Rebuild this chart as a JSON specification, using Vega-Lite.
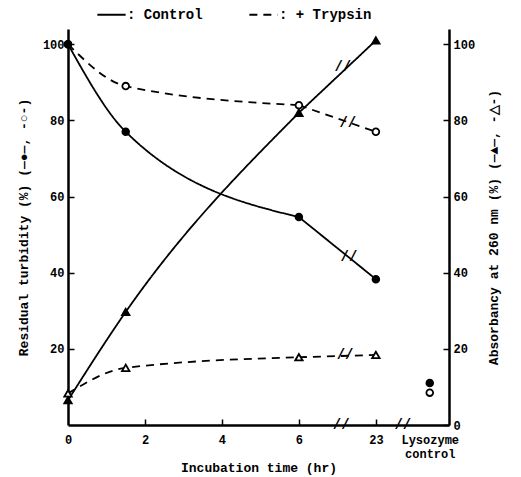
{
  "$schema": "https://vega.github.io/schema/vega-lite/v6.json",
  "autosize": "none",
  "width": 381,
  "height": 396,
  "padding": {"left": 68, "top": 29, "right": 72, "bottom": 52},
  "background": "white",
  "view": {"stroke": null},
  "config": {
    "font": "Liberation Mono",
    "axis": {
      "labelFont": "Liberation Mono",
      "labelFontWeight": "bold",
      "labelFontSize": 12,
      "labelColor": "black",
      "titleFont": "Liberation Mono",
      "titleFontWeight": "bold",
      "titleFontSize": 13,
      "titleColor": "black",
      "domainColor": "black",
      "domainWidth": 2.5,
      "tickColor": "black",
      "tickWidth": 1.5,
      "grid": false
    },
    "legend": {
      "labelFont": "Liberation Mono",
      "labelFontWeight": "bold",
      "labelFontSize": 14,
      "labelColor": "black"
    }
  },
  "datasets": {
    "turb": [
      {"series": "Turbidity + Trypsin", "treatment": "+ Trypsin", "time": "0", "pos": 0, "value": 100},
      {"series": "Turbidity + Trypsin", "treatment": "+ Trypsin", "time": "1.5", "pos": 1.5, "value": 89},
      {"series": "Turbidity + Trypsin", "treatment": "+ Trypsin", "time": "6", "pos": 6, "value": 84},
      {"series": "Turbidity + Trypsin", "treatment": "+ Trypsin", "time": "23", "pos": 8, "value": 77},
      {"series": "Turbidity + Trypsin", "treatment": "+ Trypsin", "time": "Lysozyme control", "pos": 9.4, "value": 8.5},
      {"series": "Turbidity Control", "treatment": "Control", "time": "0", "pos": 0, "value": 100},
      {"series": "Turbidity Control", "treatment": "Control", "time": "1.5", "pos": 1.5, "value": 77},
      {"series": "Turbidity Control", "treatment": "Control", "time": "6", "pos": 6, "value": 54.6},
      {"series": "Turbidity Control", "treatment": "Control", "time": "23", "pos": 8, "value": 38.3},
      {"series": "Turbidity Control", "treatment": "Control", "time": "Lysozyme control", "pos": 9.4, "value": 11}
    ],
    "abs": [
      {"series": "Absorbancy + Trypsin", "treatment": "+ Trypsin", "time": "0", "pos": 0, "value": 8.3},
      {"series": "Absorbancy + Trypsin", "treatment": "+ Trypsin", "time": "1.5", "pos": 1.5, "value": 15},
      {"series": "Absorbancy + Trypsin", "treatment": "+ Trypsin", "time": "6", "pos": 6, "value": 17.8},
      {"series": "Absorbancy + Trypsin", "treatment": "+ Trypsin", "time": "23", "pos": 8, "value": 18.4},
      {"series": "Absorbancy Control", "treatment": "Control", "time": "0", "pos": 0, "value": 6.5},
      {"series": "Absorbancy Control", "treatment": "Control", "time": "1.5", "pos": 1.5, "value": 29.7},
      {"series": "Absorbancy Control", "treatment": "Control", "time": "6", "pos": 6, "value": 82},
      {"series": "Absorbancy Control", "treatment": "Control", "time": "23", "pos": 8, "value": 101}
    ],
    "breaks": [
      {"pos": 7.1, "value": 0},
      {"pos": 8.7, "value": 0},
      {"pos": 7.3, "value": 44},
      {"pos": 7.27, "value": 79.3},
      {"pos": 7.14, "value": 94},
      {"pos": 7.2, "value": 18.4}
    ]
  },
  "layer": [
    {
      "layer": [
        {
          "data": {"name": "turb"},
          "transform": [{"filter": "datum.pos <= 6"}],
          "mark": {"type": "line", "interpolate": "monotone", "color": "black", "strokeWidth": 1.8},
          "encoding": {
            "x": {"field": "pos", "type": "quantitative", "scale": {"domain": [0, 9.9], "nice": false},
              "axis": {
                "title": "Incubation time (hr)",
                "values": [0, 2, 4, 6, 8, 9.4],
                "labelExpr": "datum.value == 8 ? '23' : datum.value > 9 ? ['Lysozyme', 'control'] : datum.label",
                "tickSize": -6,
                "tickOpacity": {"condition": {"test": "datum.value > 9 || datum.value == 0", "value": 0}, "value": 1},
                "labelPadding": 15,
                "titlePadding": 2,
                "labelFlush": false
              }},
            "y": {"field": "value", "type": "quantitative", "scale": {"domain": [0, 104], "nice": false},
              "axis": {
                "title": "Residual turbidity (%) (—●—, -○-)",
                "values": [20, 40, 60, 80, 100],
                "tickSize": -6,
                "labelPadding": 10,
                "titlePadding": 12
              }},
            "detail": {"field": "series"},
            "strokeDash": {"field": "treatment", "type": "nominal",
              "scale": {"domain": ["Control", "+ Trypsin"], "range": [[1, 0], [8, 6]]},
              "legend": {
                "title": null, "orient": "none", "direction": "horizontal",
                "legendX": 28, "legendY": -30,
                "symbolType": "stroke", "symbolSize": 800, "symbolStrokeWidth": 2,
                "symbolStrokeColor": "black", "columnPadding": 42,
                "labelExpr": "': ' + datum.label", "labelOffset": 0
              }}
          }
        },
        {
          "data": {"name": "turb"},
          "transform": [{"filter": "datum.pos >= 6 && datum.pos <= 8"}],
          "mark": {"type": "line", "color": "black", "strokeWidth": 1.8},
          "encoding": {
            "x": {"field": "pos", "type": "quantitative"},
            "y": {"field": "value", "type": "quantitative"},
            "detail": {"field": "series"},
            "strokeDash": {"field": "treatment", "type": "nominal"}
          }
        },
        {
          "data": {"name": "turb"},
          "mark": {"type": "point", "filled": true, "stroke": "black", "strokeWidth": 1.8, "size": 45, "opacity": 1},
          "encoding": {
            "x": {"field": "pos", "type": "quantitative"},
            "y": {"field": "value", "type": "quantitative"},
            "fill": {"field": "treatment", "type": "nominal",
              "scale": {"domain": ["Control", "+ Trypsin"], "range": ["black", "white"]}, "legend": null},
            "shape": {"value": "circle"}
          }
        },
        {
          "data": {"name": "breaks"},
          "mark": {"type": "text", "text": "//", "font": "Liberation Mono", "fontWeight": "bold", "fontSize": 14, "color": "black", "baseline": "middle", "align": "center"},
          "encoding": {
            "x": {"field": "pos", "type": "quantitative"},
            "y": {"field": "value", "type": "quantitative"}
          }
        }
      ]
    },
    {
      "layer": [
        {
          "data": {"name": "abs"},
          "transform": [{"filter": "datum.pos <= 6"}],
          "mark": {"type": "line", "interpolate": "monotone", "color": "black", "strokeWidth": 1.8},
          "encoding": {
            "x": {"field": "pos", "type": "quantitative"},
            "y": {"field": "value", "type": "quantitative", "scale": {"domain": [0, 104], "nice": false},
              "axis": {
                "orient": "right",
                "title": "Absorbancy at 260 nm (%) (—▲—, -△-)",
                "titleAngle": -90,
                "values": [0, 20, 40, 60, 80, 100],
                "tickSize": -6,
                "labelPadding": 10,
                "titlePadding": 26
              }},
            "detail": {"field": "series"},
            "strokeDash": {"field": "treatment", "type": "nominal"}
          }
        },
        {
          "data": {"name": "abs"},
          "transform": [{"filter": "datum.pos >= 6"}],
          "mark": {"type": "line", "color": "black", "strokeWidth": 1.8},
          "encoding": {
            "x": {"field": "pos", "type": "quantitative"},
            "y": {"field": "value", "type": "quantitative"},
            "detail": {"field": "series"},
            "strokeDash": {"field": "treatment", "type": "nominal"}
          }
        },
        {
          "data": {"name": "abs"},
          "mark": {"type": "point", "filled": true, "stroke": "black", "strokeWidth": 1.8, "size": 55, "opacity": 1},
          "encoding": {
            "x": {"field": "pos", "type": "quantitative"},
            "y": {"field": "value", "type": "quantitative"},
            "fill": {"field": "treatment", "type": "nominal", "legend": null},
            "shape": {"value": "triangle-up"}
          }
        }
      ]
    }
  ],
  "resolve": {"scale": {"y": "independent"}}
}
